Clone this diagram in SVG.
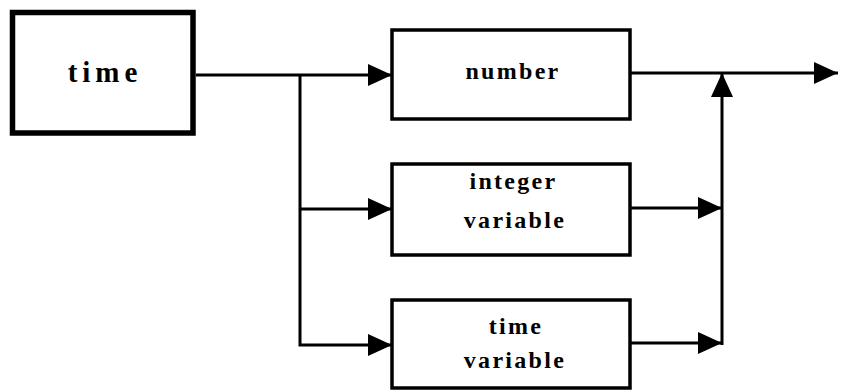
<svg xmlns="http://www.w3.org/2000/svg" width="841" height="391" viewBox="0 0 841 391">
<style>
.box{fill:#fff;stroke:#000;stroke-width:3.5}
.big{fill:#fff;stroke:#000;stroke-width:5.5}
.lbl{font-family:"Liberation Serif",serif;font-weight:bold;font-size:24px;letter-spacing:2.3px;text-anchor:middle;fill:#000}
.line{fill:none;stroke:#000;stroke-width:3}
</style>
<defs>
<marker id="ah" markerWidth="24" markerHeight="22" refX="24" refY="11" orient="auto" markerUnits="userSpaceOnUse">
<path d="M0,0 L24,11 L0,22 Z" fill="#000"/>
</marker>
</defs>
<g id="connectors">
<polyline class="line" points="196,75 392,75" marker-end="url(#ah)"/>
<polyline class="line" points="300,75 300,345 392,345" marker-end="url(#ah)"/>
<polyline class="line" points="300,209 392,209" marker-end="url(#ah)"/>
<polyline class="line" points="630,73 838,73" marker-end="url(#ah)"/>
<polyline class="line" points="630,208 722,208" marker-end="url(#ah)"/>
<polyline class="line" points="630,343 722,343" marker-end="url(#ah)"/>
<polyline class="line" points="722,345 722,73" marker-end="url(#ah)"/>
</g>
<g id="time">
<rect class="big" x="12.5" y="12.5" width="180.5" height="120.5"/>
<text class="lbl" x="105" y="82" style="font-size:29px;letter-spacing:5px">time</text>
</g>
<g id="number">
<rect class="box" x="392" y="30" width="238" height="89"/>
<text class="lbl" x="513" y="79">number</text>
</g>
<g id="integer-variable">
<rect class="box" x="392" y="164" width="238" height="91"/>
<text class="lbl" x="513.5" y="189">integer</text>
<text class="lbl" x="515" y="228">variable</text>
</g>
<g id="time-variable">
<rect class="box" x="392" y="300" width="238" height="88"/>
<text class="lbl" x="516" y="334">time</text>
<text class="lbl" x="515" y="368">variable</text>
</g>
</svg>
